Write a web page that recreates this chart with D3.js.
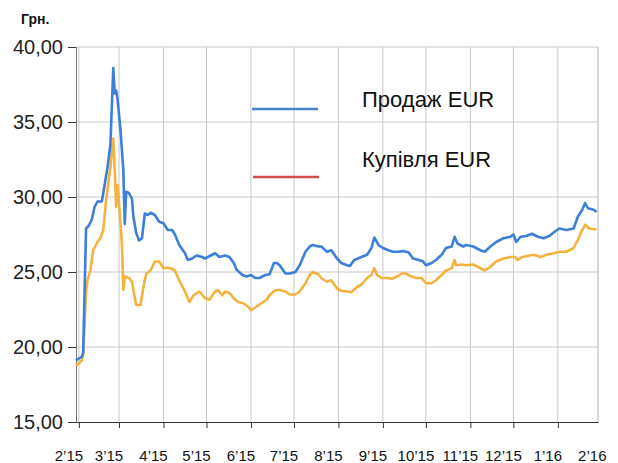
<!DOCTYPE html>
<html>
<head>
<meta charset="utf-8">
<script src="https://cdn.jsdelivr.net/npm/d3@7"></script>
<style>
  body { margin: 0; background: #fff; }
  svg { display: block; }
</style>
</head>
<body>
<div class="chart"></div>
<script>
// курс продажу EUR
const sellDates = ["2015-01-30","2015-02-03","2015-02-04","2015-02-06","2015-02-08","2015-02-10","2015-02-12","2015-02-14","2015-02-17","2015-02-18","2015-02-21","2015-02-23","2015-02-25","2015-02-26","2015-02-27","2015-02-28","2015-03-02","2015-03-04","2015-03-05","2015-03-06","2015-03-08","2015-03-10","2015-03-11","2015-03-13","2015-03-15","2015-03-17","2015-03-19","2015-03-21","2015-03-23","2015-03-26","2015-03-29","2015-04-01","2015-04-04","2015-04-07","2015-04-09","2015-04-12","2015-04-16","2015-04-18","2015-04-21","2015-04-24","2015-04-28","2015-04-30","2015-05-03","2015-05-07","2015-05-10","2015-05-14","2015-05-17","2015-05-20","2015-05-22","2015-05-26","2015-05-29","2015-06-01","2015-06-04","2015-06-07","2015-06-11","2015-06-14","2015-06-17","2015-06-19","2015-06-21","2015-06-25","2015-06-28","2015-07-02","2015-07-05","2015-07-09","2015-07-12","2015-07-14","2015-07-18","2015-07-20","2015-07-24","2015-07-27","2015-07-31","2015-08-03","2015-08-07","2015-08-09","2015-08-12","2015-08-17","2015-08-21","2015-08-24","2015-08-26","2015-08-29","2015-09-01","2015-09-05","2015-09-08","2015-09-12","2015-09-15","2015-09-19","2015-09-22","2015-09-26","2015-09-29","2015-10-01","2015-10-05","2015-10-08","2015-10-12","2015-10-15","2015-10-19","2015-10-21","2015-10-23","2015-10-27","2015-10-29","2015-11-03","2015-11-08","2015-11-11","2015-11-15","2015-11-19","2015-11-24","2015-11-29","2015-12-01","2015-12-03","2015-12-06","2015-12-10","2015-12-14","2015-12-18","2015-12-22","2015-12-26","2015-12-30","2016-01-02","2016-01-07","2016-01-12","2016-01-15","2016-01-18","2016-01-20","2016-01-22","2016-01-26","2016-01-28"];
const sellRates = [19.1,19.35,19.6,27.9,28.1,28.5,29.35,29.7,29.7,30.25,32.0,33.5,38.6,36.9,37.1,36.5,34.5,31.8,28.2,30.35,30.25,29.9,28.7,27.6,27.1,27.25,28.9,28.8,28.95,28.8,28.35,28.25,27.8,27.8,27.5,26.8,26.25,25.8,25.9,26.1,26.0,25.9,26.05,26.25,26.0,26.1,26.0,25.6,25.15,24.8,24.7,24.8,24.6,24.6,24.8,24.85,25.6,25.6,25.45,24.9,24.9,25.0,25.45,26.35,26.7,26.8,26.7,26.7,26.35,26.45,25.9,25.6,25.45,25.4,25.8,26.0,26.15,26.6,27.3,26.8,26.6,26.45,26.35,26.35,26.4,26.3,25.9,25.8,25.7,25.45,25.6,25.8,26.15,26.6,26.7,27.35,26.9,26.7,26.8,26.7,26.45,26.35,26.7,27.0,27.25,27.35,27.5,27.0,27.35,27.4,27.55,27.35,27.25,27.4,27.7,27.9,27.8,27.9,28.7,29.15,29.6,29.25,29.15,29.0];

// курс купівлі EUR
const buyDates = ["2015-01-30","2015-02-03","2015-02-04","2015-02-06","2015-02-07","2015-02-09","2015-02-11","2015-02-14","2015-02-16","2015-02-18","2015-02-20","2015-02-23","2015-02-25","2015-02-26","2015-02-27","2015-02-28","2015-03-01","2015-03-03","2015-03-04","2015-03-05","2015-03-08","2015-03-10","2015-03-13","2015-03-16","2015-03-18","2015-03-20","2015-03-23","2015-03-26","2015-03-29","2015-04-01","2015-04-04","2015-04-07","2015-04-09","2015-04-12","2015-04-16","2015-04-19","2015-04-22","2015-04-26","2015-04-30","2015-05-03","2015-05-07","2015-05-09","2015-05-12","2015-05-14","2015-05-17","2015-05-20","2015-05-23","2015-05-27","2015-05-30","2015-06-01","2015-06-05","2015-06-08","2015-06-12","2015-06-14","2015-06-18","2015-06-21","2015-06-25","2015-06-28","2015-07-02","2015-07-05","2015-07-09","2015-07-12","2015-07-14","2015-07-18","2015-07-20","2015-07-24","2015-07-27","2015-07-31","2015-08-03","2015-08-07","2015-08-10","2015-08-14","2015-08-17","2015-08-21","2015-08-24","2015-08-26","2015-08-28","2015-08-31","2015-09-04","2015-09-07","2015-09-11","2015-09-14","2015-09-17","2015-09-21","2015-09-24","2015-09-28","2015-10-01","2015-10-05","2015-10-08","2015-10-12","2015-10-15","2015-10-19","2015-10-21","2015-10-22","2015-10-26","2015-10-29","2015-11-03","2015-11-08","2015-11-11","2015-11-15","2015-11-19","2015-11-24","2015-11-29","2015-12-02","2015-12-04","2015-12-07","2015-12-10","2015-12-15","2015-12-20","2015-12-24","2015-12-29","2016-01-02","2016-01-07","2016-01-12","2016-01-15","2016-01-18","2016-01-20","2016-01-23","2016-01-27","2016-01-28"];
const buyRates = [18.75,19.1,19.45,23.6,24.45,25.1,26.45,27.0,27.25,27.8,29.8,32.0,33.9,31.8,29.35,30.8,29.6,26.9,23.8,24.7,24.6,24.35,22.8,22.8,24.0,24.9,25.1,25.7,25.7,25.25,25.3,25.2,25.1,24.45,23.7,23.0,23.45,23.7,23.25,23.15,23.7,23.8,23.45,23.7,23.6,23.25,23.0,22.9,22.7,22.45,22.7,22.9,23.15,23.45,23.8,23.8,23.7,23.5,23.5,23.7,24.25,24.8,25.0,24.85,24.6,24.35,24.45,23.9,23.75,23.7,23.65,24.0,24.15,24.6,24.8,25.25,24.8,24.6,24.6,24.55,24.7,24.9,24.9,24.7,24.6,24.6,24.25,24.25,24.45,24.8,25.1,25.25,25.8,25.45,25.5,25.45,25.5,25.25,25.1,25.35,25.7,25.9,26.0,26.0,25.8,26.0,26.05,26.15,26.0,26.15,26.25,26.35,26.35,26.6,27.15,27.8,28.15,27.9,27.85,27.85];

const yTicks = [15, 20, 25, 30, 35, 40];
const monthTicks = ["2015-02-01","2015-03-01","2015-04-01","2015-05-01","2015-06-01","2015-07-01","2015-08-01","2015-09-01","2015-10-01","2015-11-01","2015-12-01","2016-01-01","2016-02-01"];
const monthLabels = ["2’15","3’15","4’15","5’15","6’15","7’15","8’15","9’15","10’15","11’15","12’15","1’16","2’16"];
const seriesNames = ["Продаж EUR", "Купівля EUR"];

const width = 618,
    height = 463;
const margin = { top: 47, right: 20, bottom: 41, left: 76 };
const innerW = width - margin.left - margin.right,
    innerH = height - margin.top - margin.bottom;

const parse = d3.timeParse("%Y-%m-%d");

const svg = d3.select(".chart")
    .append("svg")
    .attr("width", width)
    .attr("height", height);

const g = svg.append("g").attr("transform", `translate(${margin.left},${margin.top})`);

const x = d3.scaleTime()
    .domain([parse("2015-01-30"), parse("2016-01-29")])
    .range([0, innerW]);

const y = d3.scaleLinear()
    .domain([15, 40])
    .range([innerH, 0]);

// сітка
g.append("g")
    .selectAll("line")
    .data(yTicks.slice(1))
    .join("line")
    .attr("x1", 0)
    .attr("x2", innerW)
    .attr("y1", d => y(d))
    .attr("y2", d => y(d))
    .attr("stroke", "#c8c8c8");

g.append("g")
    .selectAll("line")
    .data(monthTicks.slice(0, -1).map(parse))
    .join("line")
    .attr("x1", d => x(d))
    .attr("x2", d => x(d))
    .attr("y1", 0)
    .attr("y2", innerH)
    .attr("stroke", "#c8c8c8");

g.append("line")
    .attr("x1", innerW).attr("x2", innerW)
    .attr("y1", 0).attr("y2", innerH)
    .attr("stroke", "#b0b0b0");

// осі
const yAxis = d3.axisLeft(y)
    .tickValues(yTicks)
    .tickSize(8)
    .tickPadding(5)
    .tickFormat(d => d3.format(".2f")(d).replace(".", ","));

g.append("g")
    .call(yAxis)
    .call(a => a.select(".domain").attr("stroke", "#777"))
    .call(a => a.selectAll(".tick line").attr("stroke", "#333"))
    .call(a => a.selectAll("text")
        .attr("font-family", "Liberation Sans, Arial, sans-serif")
        .attr("font-size", 20)
        .attr("fill", "#222"));

const xAxis = d3.axisBottom(x)
    .tickValues(monthTicks.slice(0, -1).map(parse))
    .tickSize(6)
    .tickSizeOuter(0)
    .tickFormat("");

g.append("g")
    .attr("transform", `translate(0,${innerH})`)
    .call(xAxis)
    .call(a => a.select(".domain").attr("stroke", "#333"))
    .call(a => a.selectAll(".tick line").attr("stroke", "#333"));

g.append("g")
    .selectAll("text")
    .data(monthTicks)
    .join("text")
    .attr("x", d => x(parse(d)) - 10)
    .attr("y", innerH + 39)
    .attr("text-anchor", "middle")
    .attr("font-family", "Liberation Sans, Arial, sans-serif")
    .attr("font-size", 15)
    .attr("fill", "#111")
    .text((d, i) => monthLabels[i]);

// лінії
const line = d3.line()
    .x(d => x(d[0]))
    .y(d => y(d[1]));

const sell = sellDates.map((d, i) => [parse(d), sellRates[i]]);
const buy = buyDates.map((d, i) => [parse(d), buyRates[i]]);

g.append("path")
    .datum(buy)
    .attr("fill", "none")
    .attr("stroke", "#f4b23e")
    .attr("stroke-width", 2.6)
    .attr("stroke-linejoin", "round")
    .attr("d", line);

g.append("path")
    .datum(sell)
    .attr("fill", "none")
    .attr("stroke", "#3d7fd9")
    .attr("stroke-width", 2.6)
    .attr("stroke-linejoin", "round")
    .attr("d", line);

// легенда
const legendColors = ["#4a86d0", "#d24f4f"];
const legend = svg.append("g");
legend.selectAll("line")
    .data(seriesNames)
    .join("line")
    .attr("x1", (d, i) => 252 + i)
    .attr("x2", (d, i) => 318 + i)
    .attr("y1", (d, i) => 109 + i * 68)
    .attr("y2", (d, i) => 109 + i * 68)
    .attr("stroke", (d, i) => legendColors[i])
    .attr("stroke-width", 2.5);

legend.selectAll("text")
    .data(seriesNames)
    .join("text")
    .attr("x", 362)
    .attr("y", (d, i) => 107 + i * 60)
    .attr("font-family", "Liberation Sans, Arial, sans-serif")
    .attr("font-size", 22)
    .attr("fill", "#111")
    .text(d => d);

svg.append("text")
    .attr("x", 21)
    .attr("y", 24)
    .attr("font-family", "Liberation Sans, Arial, sans-serif")
    .attr("font-weight", "bold")
    .attr("font-size", 14)
    .attr("fill", "#111")
    .text("Грн.");
</script>
</body>
</html>
